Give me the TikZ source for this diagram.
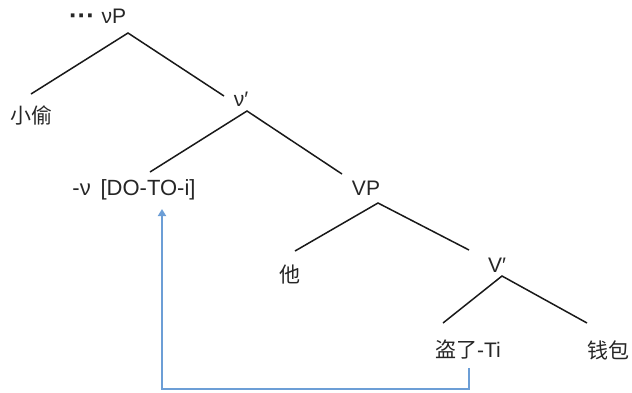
\documentclass[tikz,border=0pt]{standalone}
\usepackage{fontspec}
\setmainfont{Liberation Sans}
\newfontfamily\cjk{Noto Sans CJK SC}
\usetikzlibrary{arrows.meta}
\definecolor{linkblue}{RGB}{108,158,214}
\begin{document}
\begin{tikzpicture}[x=1pt,y=-1pt,
  lbl/.style={inner sep=0pt, font=\fontsize{21}{24}\selectfont, text=black!85},
  zh/.style={inner sep=0pt, font=\fontsize{21}{24}\selectfont\cjk, text=black!85},
  branch/.style={line width=1.5pt, black!90},
  move/.style={line width=1.8pt, linkblue, -{Triangle[length=7pt,width=8pt]}}]
\useasboundingbox (0,0) rectangle (632,392);
% labels
\node[lbl, font=\fontsize{26}{28}\selectfont\bfseries] (dots) at (82,19) {···};
\node[lbl] (vP) at (114,16) {νP};
\node[zh] (thief) at (31,115) {小偷};
\node[lbl] (vbar) at (241,99) {ν′};
\node[lbl, font=\fontsize{22}{24}\selectfont] (vhead) at (134,190) {-ν\ \,[DO-TO-i]};
\node[lbl] (VP) at (366,188) {VP};
\node[zh] (ta) at (290,275) {他};
\node[lbl] (Vbar) at (497,265) {V′};
\node[zh] (steal) at (468,350) {盗了\fontspec{Liberation Sans}-Ti};
\node[zh] (wallet) at (608,350) {钱包};
% branch end points
\coordinate (vPtop) at (128,33);
\coordinate (thiefend) at (31,94);
\coordinate (vbarend) at (224,96);
\coordinate (vbartop) at (247,111);
\coordinate (vheadend) at (150,172);
\coordinate (VPend) at (342,174);
\coordinate (VPtop) at (378,203);
\coordinate (taend) at (295,251);
\coordinate (Vbarend) at (469,250);
\coordinate (Vbartop) at (502,276);
\coordinate (stealend) at (443,323);
\coordinate (walletend) at (587,323);
% branches
\draw[branch] (thiefend) -- (vPtop) -- (vbarend);
\draw[branch] (vheadend) -- (vbartop) -- (VPend);
\draw[branch] (taend) -- (VPtop) -- (Vbarend);
\draw[branch] (stealend) -- (Vbartop) -- (walletend);
% movement
\coordinate (mvstart) at (469,368);
\coordinate (mvend) at (162,209);
\draw[move] (mvstart) -- (469,389) -| (mvend);
\end{tikzpicture}
\end{document}
